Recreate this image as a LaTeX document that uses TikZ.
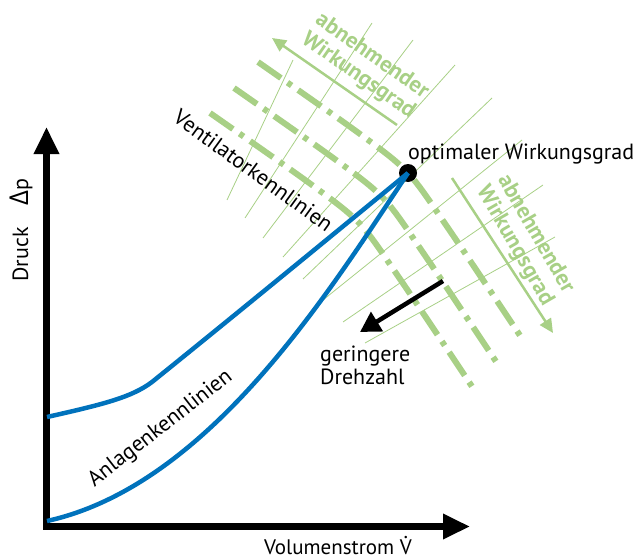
\documentclass[tikz,border=0pt]{standalone}
\usepackage{fontspec}
\setmainfont{PT Sans}
\newfontfamily\deltafont{Open Sans}
\usetikzlibrary{arrows.meta}
\definecolor{kennblau}{RGB}{0,114,188}
\definecolor{kenngruen}{RGB}{168,208,134}
\newcommand{\vpunkt}{{\ooalign{V\cr\hidewidth\raisebox{0.74em}{.}\hidewidth\cr}}}
\tikzset{
  schrift/.style={font=\fontsize{22}{23}\selectfont, inner sep=0pt},
  gruenschrift/.style={font=\bfseries\fontsize{22.5}{24}\selectfont, text=kenngruen, align=center, inner sep=0pt},
  achse/.style={line width=6.5pt, line join=miter, {Triangle[length=27pt,width=24pt]}-{Triangle[length=27pt,width=24pt]}},
  anlage/.style={kennblau, line width=4.5pt},
  ventilator/.style={kenngruen, line width=6pt, dash pattern=on 28pt off 8pt on 5pt off 8pt},
  wgrad/.style={kenngruen, line width=0.8pt},
  gruenpfeil/.style={kenngruen, line width=2.5pt, -{Triangle[length=14pt,width=13pt]}},
  punkt/.style={circle, fill=black, inner sep=0pt, minimum size=18pt}
}
\begin{document}
\begin{tikzpicture}[x=1pt,y=-1pt]
  \useasboundingbox (0,0) rectangle (639,559);
  \draw[wgrad] (227,200) -- (293,60);
  \draw[wgrad] (245,218) -- (372,23);
  \draw[wgrad] (263,238) -- (413,40);
  \draw[wgrad] (283,257) -- (455,65);
  \draw[wgrad] (303,279) -- (492,98);
  \draw[wgrad] (323,300) -- (522,140);
  \draw[wgrad] (343,322) -- (543,185);
  \draw[wgrad] (365,343) -- (555,237);
  \draw[ventilator] plot[smooth] coordinates {(258,62) (360,134) (408,173) (448,228) (523,340)};
  \draw[ventilator] plot[smooth] coordinates {(234,88) (336,160) (384,199) (424,254) (499,366)};
  \draw[ventilator] plot[smooth] coordinates {(210,113) (312,185) (360,224) (400,279) (475,391)};
  \coordinate (w1a) at (397,125);
  \coordinate (w1b) at (272,38);
  \coordinate (w2a) at (452,178);
  \coordinate (w2b) at (553,333);
  \draw[gruenpfeil] (w1a) -- (w1b);
  \draw[gruenpfeil] (w2a) -- (w2b);
  \node[gruenschrift, rotate=-35] (wtext1) at (365,66) {abnehmender\\Wirkungsgrad};
  \node[gruenschrift, rotate=-60] (wtext2) at (525,240) {abnehmender\\Wirkungsgrad};
  \coordinate (o) at (46.5,526.5);
  \coordinate (xmax) at (470,526.5);
  \coordinate (ymax) at (46.5,127);
  \draw[achse] (ymax) -- (o) -- (xmax);
  \node[schrift, rotate=90] (ylab) at (21,230) {Druck\quad{\deltafont\fontsize{26}{26}\selectfont Δ}p};
  \node[schrift, anchor=base, font=\fontsize{21}{23}\selectfont] (xlab) at (338,554) {Volumenstrom \vpunkt};
  \node[punkt] (opt) at (408,173) {};
  \coordinate (a1) at (47,417);
  \coordinate (a2) at (47,521);
  \draw[anlage] (a1) .. controls (105,404) and (132,397) .. (152,382)
    .. controls (240,311) and (330,237) .. (opt.center);
  \draw[anlage] (a2) .. controls (210,485) and (330,290) .. (opt.center);
  \node[schrift, anchor=base west] (optlab) at (408,159) {optimaler Wirkungsgrad};
  \node[schrift, anchor=base, rotate=-36] (vlab) at (249,177) {Ventilatorkennlinien};
  \node[schrift, anchor=base, rotate=38] (alab) at (164,433) {Anlagenkennlinien};
  \coordinate (d1) at (443,281);
  \coordinate (d2) at (360,332);
  \draw[line width=4.5pt, -{Triangle[length=20pt,width=22pt]}] (d1) -- (d2);
  \node[schrift, anchor=north west, align=left] (dlab) at (320,346) {geringere\\Drehzahl};
\end{tikzpicture}
\end{document}
